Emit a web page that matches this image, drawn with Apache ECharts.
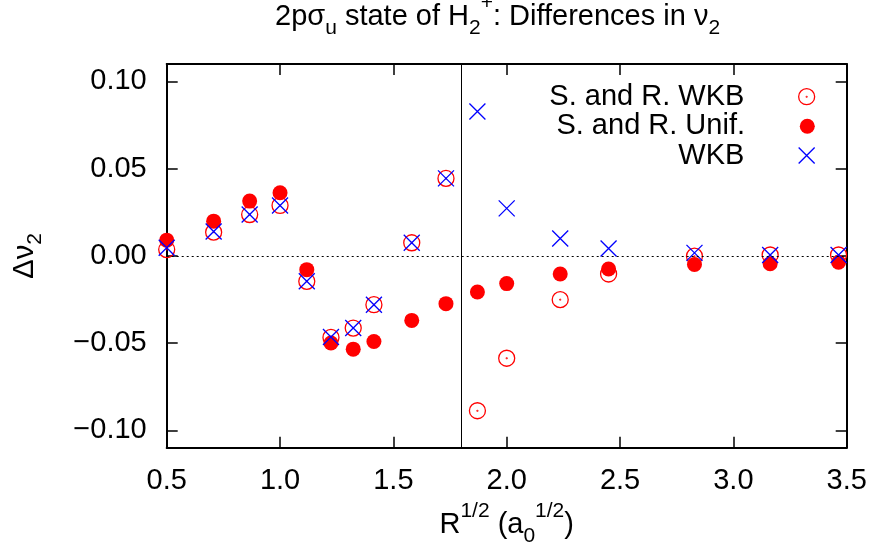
<!DOCTYPE html>
<html>
<head>
<meta charset="utf-8">
<script src="https://cdn.jsdelivr.net/npm/echarts@6/dist/echarts.min.js"></script>
<style>
html,body{margin:0;padding:0;background:#fff;}
#chart{width:870px;height:544px;}
</style>
</head>
<body>
<div id="chart"></div>
<script>
// sqrt(R) positions
const xVals = [0.5, 0.7071, 0.8660, 1.0, 1.1180, 1.2247, 1.3229, 1.4142, 1.5811, 1.7321, 1.8708, 2.0, 2.2361, 2.4495, 2.8284, 3.1623, 3.4641];
const srWKB  = [0.0036, 0.0136, 0.0237, 0.0289, -0.0146, -0.0468, -0.0414, -0.0280, 0.0075, 0.0444, -0.0888, -0.0587, -0.0251, -0.0104, -0.0002, 0.0005, 0.0005];
const srUnif = [0.0090, 0.0199, 0.0314, 0.0362, -0.0079, -0.0500, -0.0535, -0.0491, -0.0370, -0.0274, -0.0207, -0.0159, -0.0104, -0.0075, -0.0050, -0.0045, -0.0037];
const wkb    = [0.0046, 0.0140, 0.0237, 0.0289, -0.0146, -0.0465, -0.0414, -0.0280, 0.0075, 0.0444, 0.0828, 0.0272, 0.0099, 0.0042, 0.0017, 0.0005, 0.0005];
const seriesNames = ['S. and R. WKB', 'S. and R. Unif.', 'WKB'];
const yTicks = [-0.10, -0.05, 0.00, 0.05, 0.10];
const xTicks = [0.5, 1.0, 1.5, 2.0, 2.5, 3.0, 3.5];
const xMark = 1.8;

const FONT = 'Liberation Sans';
const FS = 29;
const richStyles = {
  b:   {fontFamily: FONT, fontSize: FS, fontWeight: 'normal', lineHeight: 30, color: '#000', verticalAlign: 'middle'},
  sup: {fontFamily: FONT, fontSize: 21, fontWeight: 'normal', lineHeight: 22, padding: [0, 0, 28, 0], color: '#000', verticalAlign: 'middle'},
  sub: {fontFamily: FONT, fontSize: 21, fontWeight: 'normal', lineHeight: 22, padding: [22, 0, 0, 0], color: '#000', verticalAlign: 'middle'}
};

function pairs(ys) { return xVals.map((x, i) => [x, ys[i]]); }

const ringPath = 'path://M10,0A10,10,0,1,1,10,20A10,10,0,1,1,10,0ZM10,9.5A0.5,0.5,0,1,1,10,10.5A0.5,0.5,0,1,1,10,9.5Z';
const crossPath = 'path://M0,0L20,20M20,0L0,20';

const chart = echarts.init(document.getElementById('chart'), null, {renderer: 'canvas'});

const tickStyle = {show: true, inside: true, length: 11, lineStyle: {color: '#000', width: 1.5}};
const lineStyle = {show: true, onZero: false, lineStyle: {color: '#000', width: 2}};

function legendFor(name, top, size, itemStyle) {
  return {
    data: [name], selectedMode: false, orient: 'horizontal', align: 'right',
    right: 870 - 807.3 - size / 2, top: top, padding: 0,
    itemWidth: size, itemHeight: size, itemStyle: itemStyle,
    textStyle: {fontFamily: FONT, fontSize: FS, color: '#000', lineHeight: 30, padding: [0, 62.3 - size / 2 - 5, 0, 0]}
  };
}

chart.setOption({
  animation: false,
  backgroundColor: '#fff',
  title: {
    text: '{b|2pσ}{sub|u}{b| state of H}{sub|2}{sup|+}{b|: Differences in ν}{sub|2}',
    left: 275, top: 2, padding: 0,
    textStyle: {fontWeight: 'normal', rich: richStyles}
  },
  legend: [
    legendFor(seriesNames[0], 96.7 - 15, 16, {color: 'rgba(0,0,0,0)', borderColor: '#ff0000', borderWidth: 1.3}),
    legendFor(seriesNames[1], 126.2 - 15, 15, {color: '#ff0000', borderWidth: 0}),
    legendFor(seriesNames[2], 155.5 - 15, 16, {color: 'rgba(0,0,0,0)', borderColor: '#0000ff', borderWidth: 1.3})
  ],
  grid: {left: 166.7, right: 23.3, top: 64, bottom: 96.3, containLabel: false, outerBoundsMode: 'none'},
  xAxis: [
    {
      type: 'value', position: 'bottom', min: 0.5, max: 3.5, interval: 0.5,
      axisLine: lineStyle, axisTick: tickStyle, splitLine: {show: false},
      axisLabel: {show: true, margin: 19, fontFamily: FONT, fontSize: FS, color: '#000',
        customValues: xTicks, formatter: v => v.toFixed(1)},
      name: '{b|R}{sup|1/2}{b| (a}{sub|0}{sup|1/2}{b|)}',
      nameLocation: 'middle', nameGap: 50,
      nameTextStyle: {rich: richStyles}
    },
    {
      type: 'value', position: 'top', min: 0.5, max: 3.5, interval: 0.5,
      axisLine: lineStyle, axisTick: tickStyle, splitLine: {show: false}, axisLabel: {show: false}
    }
  ],
  yAxis: [
    {
      type: 'value', position: 'left', min: -0.11, max: 0.11,
      axisLine: lineStyle,
      axisTick: Object.assign({}, tickStyle, {customValues: yTicks}),
      splitLine: {show: false},
      axisLabel: {show: true, margin: 20, fontFamily: FONT, fontSize: FS, color: '#000',
        customValues: yTicks, formatter: v => (v < 0 ? '\u2212' : '') + Math.abs(v).toFixed(2)},
      name: '{b|Δν}{sub|2}',
      nameLocation: 'middle', nameGap: 127, nameRotate: 90,
      nameTextStyle: {rich: richStyles}
    },
    {
      type: 'value', position: 'right', min: -0.11, max: 0.11,
      axisLine: lineStyle,
      axisTick: Object.assign({}, tickStyle, {customValues: yTicks}),
      splitLine: {show: false}, axisLabel: {show: false}
    }
  ],
  series: [
    {
      name: seriesNames[0], type: 'scatter', data: pairs(srWKB),
      symbol: ringPath, symbolSize: 16,
      itemStyle: {color: 'rgba(0,0,0,0)', borderColor: '#ff0000', borderWidth: 1.3, opacity: 1},
      markLine: {
        silent: true, symbol: 'none', label: {show: false},
        data: [
          {xAxis: xMark, lineStyle: {color: '#000', width: 1, type: 'solid'}},
          {yAxis: 0, lineStyle: {color: '#000', width: 1, type: [2, 3]}}
        ]
      }
    },
    {
      name: seriesNames[1], type: 'scatter', data: pairs(srUnif),
      symbol: 'circle', symbolSize: 15,
      itemStyle: {color: '#ff0000', borderWidth: 0, opacity: 1}
    },
    {
      name: seriesNames[2], type: 'scatter', data: pairs(wkb),
      symbol: crossPath, symbolSize: 16,
      itemStyle: {color: 'rgba(0,0,0,0)', borderColor: '#0000ff', borderWidth: 1.3, opacity: 1}
    }
  ]
});
</script>
</body>
</html>
